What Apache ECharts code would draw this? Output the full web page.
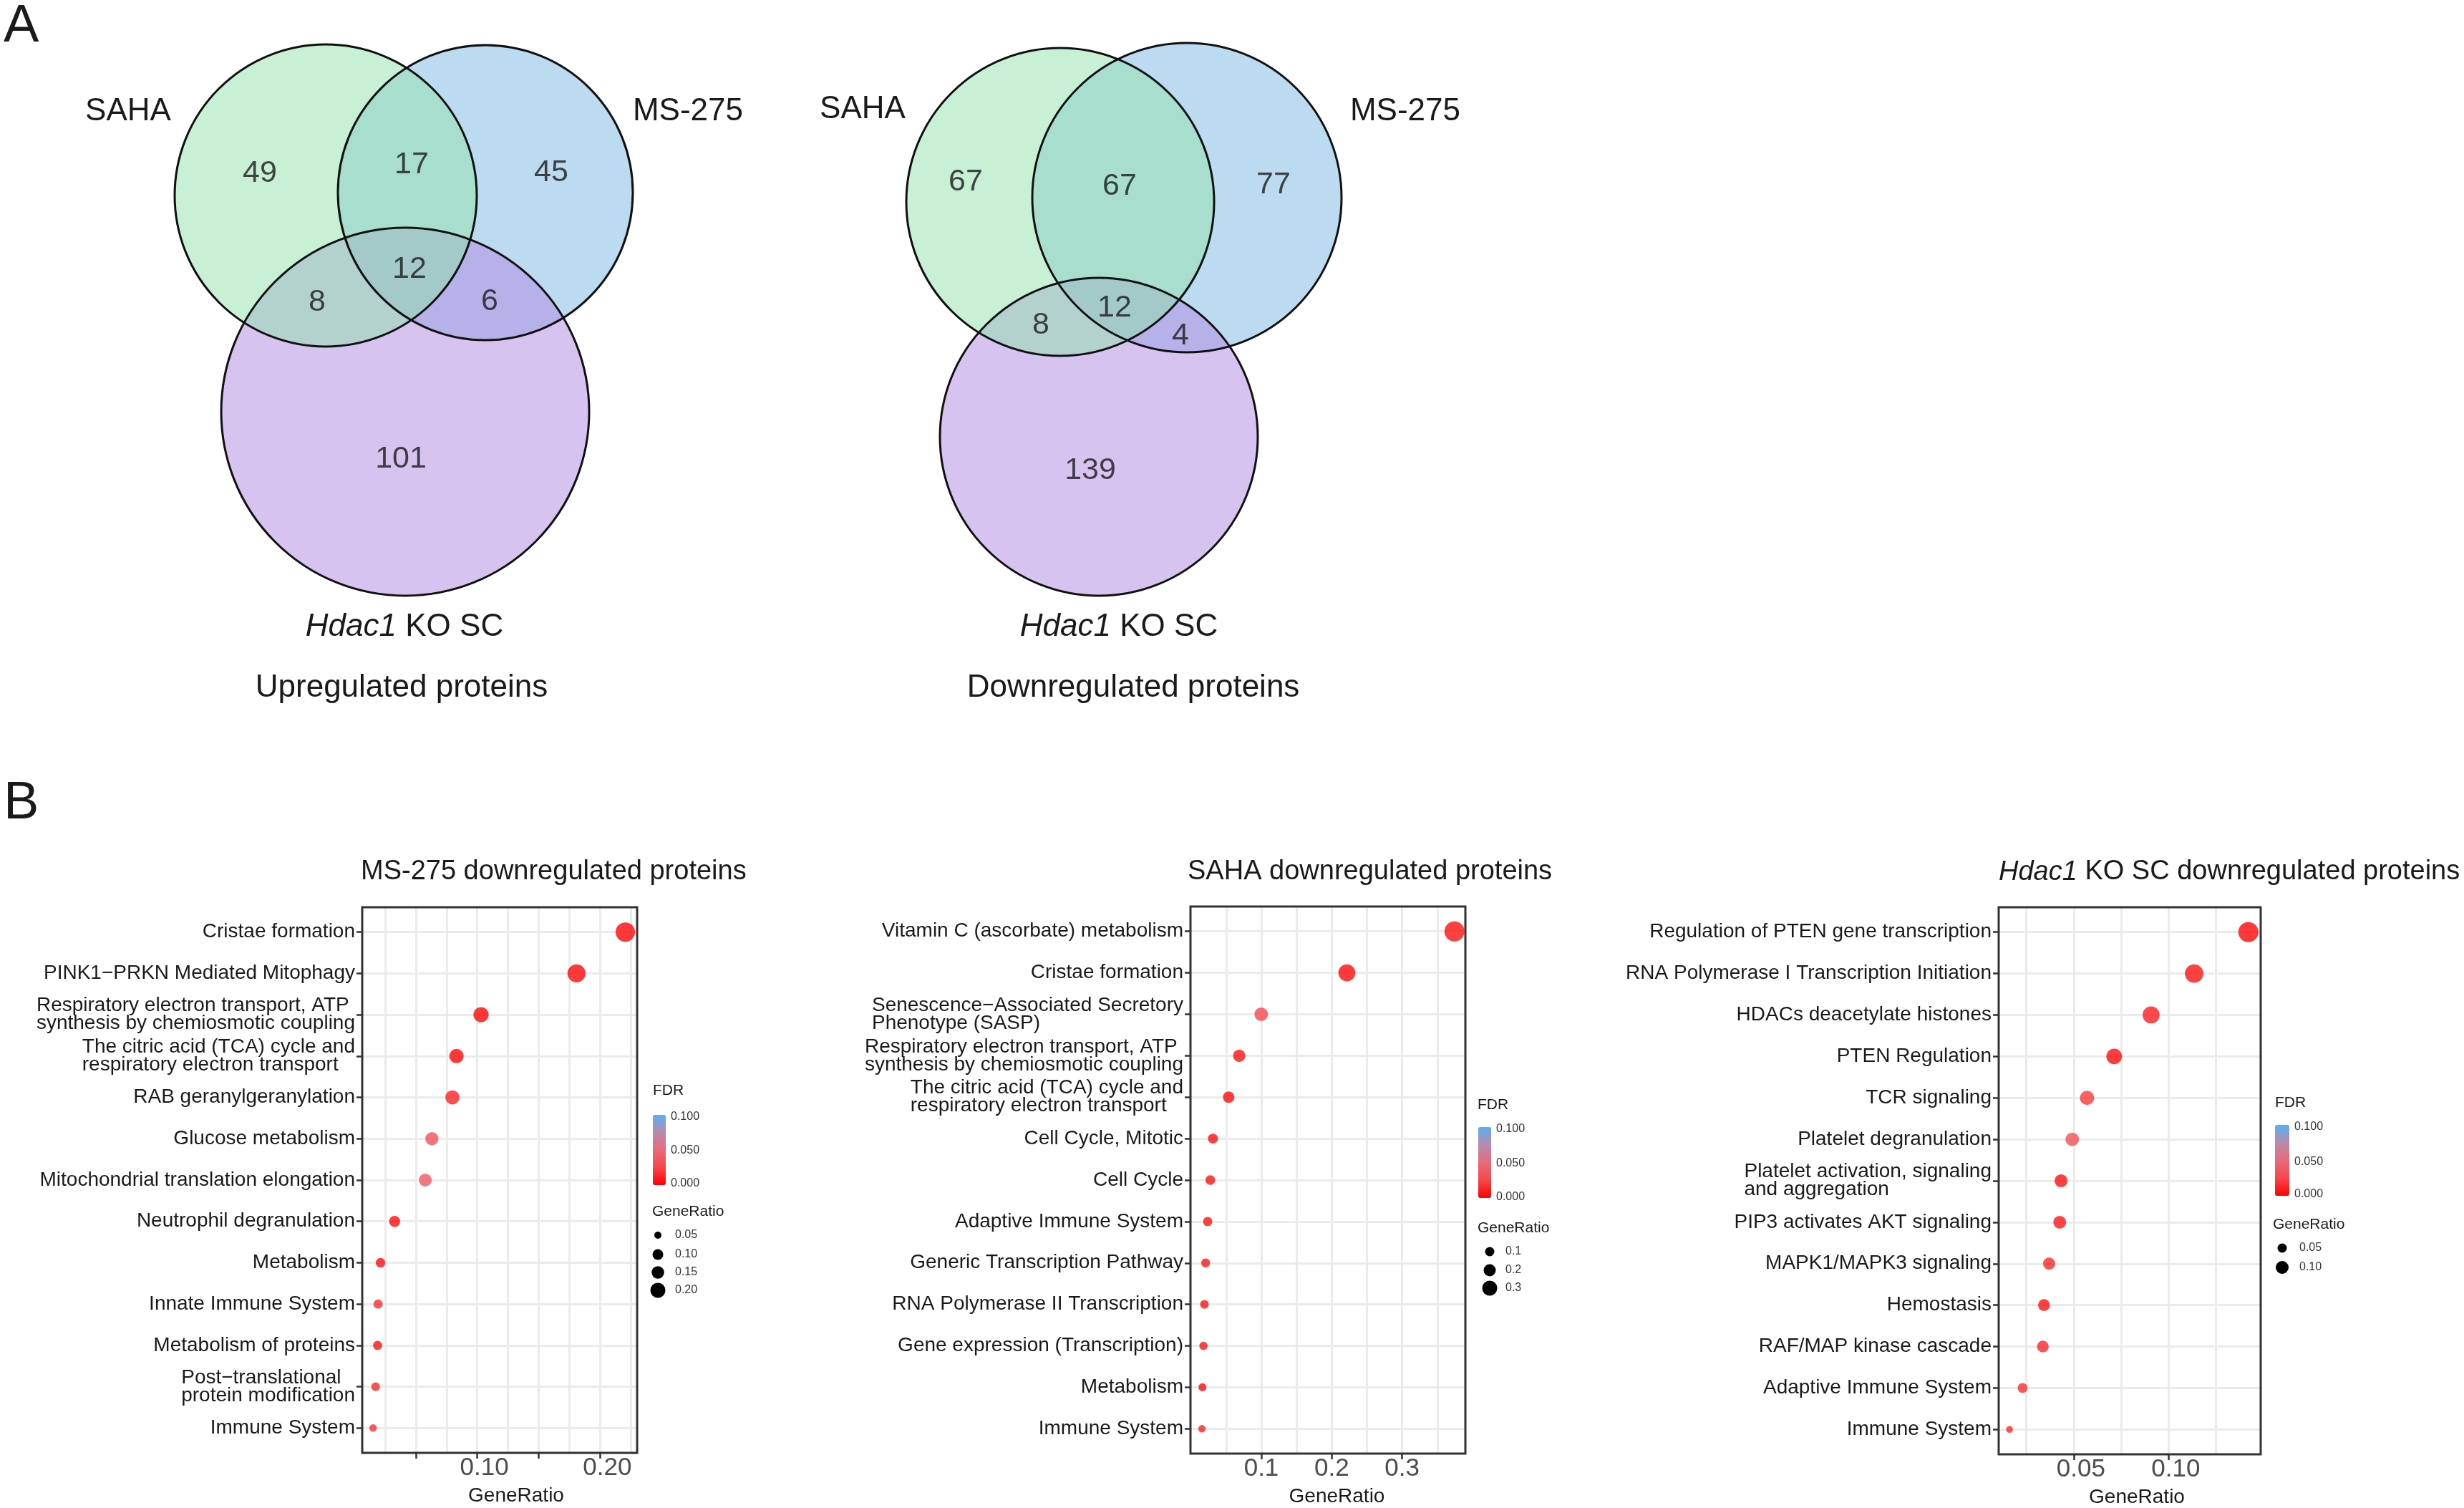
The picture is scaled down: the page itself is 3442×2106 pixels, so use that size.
<!DOCTYPE html>
<html>
<head>
<meta charset="utf-8">
<script src="https://cdn.jsdelivr.net/npm/echarts@6.0.0/dist/echarts.min.js"></script>
<style>
html,body{margin:0;padding:0;background:#ffffff;}
#chart{width:3442px;height:2106px;}
</style>
</head>
<body>
<div id="chart"></div>
<script>
// ================= DATA =================
// Venn regions (order used by both Venn diagrams)
const vennRegionNames = ['SAHA only', 'SAHA & MS-275', 'MS-275 only', 'all three', 'SAHA & Hdac1 KO SC', 'MS-275 & Hdac1 KO SC', 'Hdac1 KO SC only'];
const vennUpCounts   = [49, 17, 45, 12, 8, 6, 101];
const vennDownCounts = [67, 67, 77, 12, 8, 4, 139];

// Panel B1: MS-275 downregulated proteins
const ms275Terms = [
  'Cristae formation',
  'PINK1\u2212PRKN Mediated Mitophagy',
  'Respiratory electron transport, ATP\nsynthesis by chemiosmotic coupling',
  'The citric acid (TCA) cycle and\nrespiratory electron transport',
  'RAB geranylgeranylation',
  'Glucose metabolism',
  'Mitochondrial translation elongation',
  'Neutrophil degranulation',
  'Metabolism',
  'Innate Immune System',
  'Metabolism of proteins',
  'Post\u2212translational\nprotein modification',
  'Immune System'
];
const ms275Ratio = [0.2205, 0.1808, 0.1031, 0.0831, 0.0798, 0.0631, 0.0577, 0.0328, 0.0213, 0.0193, 0.0189, 0.0173, 0.0152];
const ms275FDR   = [0.002, 0.003, 0.002, 0.002, 0.012, 0.032, 0.036, 0.004, 0.005, 0.016, 0.006, 0.014, 0.016];

// Panel B2: SAHA downregulated proteins
const sahaTerms = [
  'Vitamin C (ascorbate) metabolism',
  'Cristae formation',
  'Senescence\u2212Associated Secretory\nPhenotype (SASP)',
  'Respiratory electron transport, ATP\nsynthesis by chemiosmotic coupling',
  'The citric acid (TCA) cycle and\nrespiratory electron transport',
  'Cell Cycle, Mitotic',
  'Cell Cycle',
  'Adaptive Immune System',
  'Generic Transcription Pathway',
  'RNA Polymerase II Transcription',
  'Gene expression (Transcription)',
  'Metabolism',
  'Immune System'
];
const sahaRatio = [0.3744, 0.2215, 0.0998, 0.0685, 0.0536, 0.0312, 0.0275, 0.0237, 0.0208, 0.0192, 0.0178, 0.0163, 0.0156];
const sahaFDR   = [0.006, 0.003, 0.026, 0.006, 0.004, 0.005, 0.006, 0.006, 0.008, 0.007, 0.008, 0.004, 0.012];

// Panel B3: Hdac1 KO SC downregulated proteins
const hdacTerms = [
  'Regulation of PTEN gene transcription',
  'RNA Polymerase I Transcription Initiation',
  'HDACs deacetylate histones',
  'PTEN Regulation',
  'TCR signaling',
  'Platelet degranulation',
  'Platelet activation, signaling\nand aggregation',
  'PIP3 activates AKT signaling',
  'MAPK1/MAPK3 signaling',
  'Hemostasis',
  'RAF/MAP kinase cascade',
  'Adaptive Immune System',
  'Immune System'
];
const hdacRatio = [0.1421, 0.1135, 0.0908, 0.0713, 0.0570, 0.0492, 0.0433, 0.0426, 0.0370, 0.0343, 0.0337, 0.0230, 0.0161];
const hdacFDR   = [0.002, 0.006, 0.010, 0.004, 0.020, 0.032, 0.006, 0.008, 0.014, 0.006, 0.014, 0.016, 0.014];

// Tick labels
const ms275TickValues = [0.10, 0.20];
const ms275TickLabels = ['0.10', '0.20'];
const sahaTickValues  = [0.1, 0.2, 0.3];
const sahaTickLabels  = ['0.1', '0.2', '0.3'];
const hdacTickValues  = [0.05, 0.10];
const hdacTickLabels  = ['0.05', '0.10'];

// Legend breaks
const fdrBreakLabels = ['0.100', '0.050', '0.000'];
const ms275SizeBreaks = ['0.05', '0.10', '0.15', '0.20'];
const sahaSizeBreaks  = ['0.1', '0.2', '0.3'];
const hdacSizeBreaks  = ['0.05', '0.10'];

// ================= LAYOUT / STYLE =================
const FONT = '"Liberation Sans", Arial, Helvetica, sans-serif';
const TXT = '#1a1a1a';
const fdrColors = ['#ff0000', '#f7474c', '#e86b7a', '#b98aac', '#56b1f7'];

// Venn geometry (canvas pixel units): order blue, purple, green (draw order)
const vennFillColors = ['rgba(121,181,225,0.5)', 'rgba(175,135,225,0.5)', 'rgba(145,225,169,0.5)'];
const vennUpCircles   = [[678, 269, 206], [566, 575, 257], [455, 273, 211]];
const vennDownCircles = [[1658, 276, 216], [1535, 610, 222], [1481, 282, 215]];
const vennUpLabelPos   = [[363, 242], [575, 230], [770, 241], [572, 376], [443, 422], [684, 421], [560, 641]];
const vennDownLabelPos = [[1349, 254], [1564, 260], [1779, 258], [1557, 430], [1454, 454], [1649, 469], [1523, 657]];

const panels = [
  { terms: ms275Terms, ratio: ms275Ratio, fdr: ms275FDR, tickV: ms275TickValues, tickL: ms275TickLabels,
    left: 506, top: 1267, width: 384, height: 762, xmin: 0.0064, xmax: 0.2301,
    gridVals: [0.025, 0.05, 0.075, 0.10, 0.125, 0.15, 0.175, 0.20, 0.225], majors: [0.05, 0.10, 0.15, 0.20],
    dmin: 10.5, dmax: 27, labelPad: 20, namePad: 46,
    title: 'MS-275 downregulated proteins', titleX: 504,
    leg: { fdrX: 912, fdrY: 1523, barX: 912, barY: 1557, barW: 18, barH: 98, labX: 937, labY: [1560, 1607, 1653],
           grX: 911, grY: 1692, dotX: 919, dotY: [1725, 1752, 1777, 1802], dotD: [10, 15, 17.5, 21], dotLabX: 943,
           breaks: ms275SizeBreaks } },
  { terms: sahaTerms, ratio: sahaRatio, fdr: sahaFDR, tickV: sahaTickValues, tickL: sahaTickLabels,
    left: 1663, top: 1266, width: 384, height: 764, xmin: -0.0007, xmax: 0.3899,
    gridVals: [0.05, 0.10, 0.15, 0.20, 0.25, 0.30, 0.35], majors: [0.1, 0.2, 0.3],
    dmin: 10.3, dmax: 28, labelPad: 0, namePad: 25,
    title: 'SAHA downregulated proteins', titleX: 1659,
    leg: { fdrX: 2064, fdrY: 1543, barX: 2065, barY: 1574, barW: 18, barH: 99, labX: 2090, labY: [1577, 1625, 1672],
           grX: 2064, grY: 1715, dotX: 2081, dotY: [1748, 1774, 1799], dotD: [13, 17, 21], dotLabX: 2103,
           breaks: sahaSizeBreaks } },
  { terms: hdacTerms, ratio: hdacRatio, fdr: hdacFDR, tickV: hdacTickValues, tickL: hdacTickLabels,
    left: 2792, top: 1267, width: 366, height: 764, xmin: 0.0104, xmax: 0.1486,
    gridVals: [0.025, 0.05, 0.075, 0.10, 0.125], majors: [0.05, 0.10],
    dmin: 9.5, dmax: 28, labelPad: 20, namePad: 20,
    title: '{i|Hdac1} KO SC downregulated proteins', titleX: 2792,
    leg: { fdrX: 3178, fdrY: 1540, barX: 3178, barY: 1571, barW: 20, barH: 99, labX: 3205, labY: [1574, 1623, 1668],
           grX: 3175, grY: 1710, dotX: 3188, dotY: [1743, 1770], dotD: [13, 18], dotLabX: 3212,
           breaks: hdacSizeBreaks } }
];

// ================= BUILD OPTION =================
const grids = [{ left: 0, top: 0, width: 3442, height: 2106, show: false, outerBoundsMode: 'none' }];
const xAxes = [{ gridIndex: 0, type: 'value', min: 0, max: 3442, show: false }];
const yAxes = [{ gridIndex: 0, type: 'value', min: 0, max: 2106, inverse: true, show: false }];
const series = [];
const visualMaps = [];
const graphics = [];

function text(x, y, str, size, extra) {
  return {
    type: 'text', x: x, y: y, z: 100, silent: true,
    style: Object.assign({ text: str, fontSize: size, fontFamily: FONT, fill: TXT, align: 'center', verticalAlign: 'middle' }, (extra || {}))
  };
}

// Venn circles (fills then strokes)
const vennAll = [];
vennUpCircles.forEach((c, i) => vennAll.push([c[0], c[1], c[2], i]));
vennDownCircles.forEach((c, i) => vennAll.push([c[0], c[1], c[2], i]));
function circleRender(stroke) {
  return function (params, api) {
    const p = api.coord([api.value(0), api.value(1)]);
    const r = api.size([api.value(2), 0])[0];
    const k = api.value(3);
    return {
      type: 'circle', shape: { cx: p[0], cy: p[1], r: r },
      style: stroke ? { fill: 'none', stroke: '#111111', lineWidth: 3 } : { fill: vennFillColors[k], stroke: 'none' }
    };
  };
}
series.push({ type: 'custom', xAxisIndex: 0, yAxisIndex: 0, data: vennAll, renderItem: circleRender(false), silent: true, z: 1 });
series.push({ type: 'custom', xAxisIndex: 0, yAxisIndex: 0, data: vennAll, renderItem: circleRender(true), silent: true, z: 2 });

// Venn counts
const vennNums = [];
vennUpCounts.forEach((c, i) => vennNums.push([vennUpLabelPos[i][0], vennUpLabelPos[i][1], c]));
vennDownCounts.forEach((c, i) => vennNums.push([vennDownLabelPos[i][0], vennDownLabelPos[i][1], c]));
series.push({
  type: 'scatter', xAxisIndex: 0, yAxisIndex: 0, data: vennNums, symbolSize: 1, silent: true, z: 3,
  itemStyle: { color: 'rgba(0,0,0,0)' },
  label: { show: true, position: 'inside', formatter: p => String(p.value[2]), fontSize: 43, fontFamily: FONT, color: TXT }
});

// Venn texts
graphics.push(text(5, 38, 'A', 74, { align: 'left' }));
graphics.push(text(5, 1123, 'B', 74, { align: 'left' }));
const richI = (size) => ({ i: { fontStyle: 'italic', fontSize: size, fontFamily: FONT, fill: TXT } });
graphics.push(text(179, 156, 'SAHA', 44));
graphics.push(text(961, 156, 'MS-275', 44));
graphics.push(text(565, 876, '{i|Hdac1} KO SC', 44, { rich: richI(44) }));
graphics.push(text(561, 961, 'Upregulated proteins', 44));
graphics.push(text(1205, 153, 'SAHA', 44));
graphics.push(text(1963, 156, 'MS-275', 44));
graphics.push(text(1563, 876, '{i|Hdac1} KO SC', 44, { rich: richI(44) }));
graphics.push(text(1583, 961, 'Downregulated proteins', 44));

// Dot plot panels
function sizeFn(vals, dmin, dmax) {
  const lo = Math.min.apply(null, vals), hi = Math.max.apply(null, vals);
  return v => dmin + (dmax - dmin) * Math.sqrt(Math.max(0, (v[0] - lo) / (hi - lo)));
}
function labelLookup(vals, labs) {
  return v => { for (let i = 0; i < vals.length; i++) { if (Math.abs(vals[i] - v) < 1e-9) return labs[i]; } return ''; };
}

panels.forEach((p, k) => {
  const gi = k + 1;
  grids.push({ left: p.left, top: p.top, width: p.width, height: p.height, show: true,
               borderColor: '#333333', borderWidth: 3, backgroundColor: 'rgba(0,0,0,0)', z: 2, outerBoundsMode: 'none' });
  const n = p.terms.length;
  const idx = p.terms.map((t, i) => i);
  const xMainIdx = xAxes.length;
  xAxes.push({
    gridIndex: gi, type: 'value', min: p.xmin, max: p.xmax, position: 'bottom',
    axisLine: { show: false, onZero: false },
    axisTick: { show: false, customValues: p.gridVals },
    axisLabel: { show: false },
    splitLine: { show: true, lineStyle: { color: '#ebebeb', width: 3 } },
    minorSplitLine: { show: false }
  });
  xAxes.push({
    gridIndex: gi, type: 'value', min: p.xmin, max: p.xmax, position: 'bottom',
    axisLine: { show: false, onZero: false },
    axisTick: { show: true, length: 8, lineStyle: { color: '#333333', width: 2.5 }, customValues: p.majors },
    axisLabel: { show: true, customValues: p.tickV, formatter: labelLookup(p.tickV, p.tickL),
                 fontSize: 35, lineHeight: 35, fontFamily: FONT, color: '#4d4d4d', margin: 4, padding: [0, 0, 0, p.labelPad] },
    splitLine: { show: false },
    name: 'GeneRatio', nameLocation: 'middle', nameGap: 46,
    nameTextStyle: { fontSize: 28, fontFamily: FONT, color: TXT, padding: [0, 0, 0, p.namePad] }
  });
  const yIdx = yAxes.length;
  yAxes.push({
    gridIndex: gi, type: 'value', min: -0.6, max: n - 1 + 0.6, inverse: true, position: 'left',
    axisLine: { show: false, onZero: false },
    axisTick: { show: true, length: 8, lineStyle: { color: '#333333', width: 2.5 }, customValues: idx },
    axisLabel: {
      show: true, customValues: idx, margin: 10,
      formatter: v => { const t = p.terms[Math.round(v)] || ''; return t.split('\n').map(s => '{l|' + s + '}').join('\n'); },
      rich: { l: { fontSize: 28, lineHeight: 25, fontFamily: FONT, color: TXT, align: 'left' } }
    },
    splitLine: { show: true, lineStyle: { color: '#ebebeb', width: 3 } }
  });
  const sIdx = series.length;
  series.push({
    type: 'scatter', xAxisIndex: xMainIdx, yAxisIndex: yIdx,
    data: p.ratio.map((r, i) => [r, i, p.fdr[i]]),
    symbol: 'circle', symbolSize: sizeFn(p.ratio, p.dmin, p.dmax), silent: true, z: 5
  });
  visualMaps.push({
    type: 'continuous', seriesIndex: sIdx, dimension: 2, min: 0, max: 0.1,
    inRange: { color: fdrColors }, calculable: false, hoverLink: false, show: true, orient: 'vertical',
    left: p.leg.barX, top: p.leg.barY, itemWidth: p.leg.barW, itemHeight: p.leg.barH, padding: 0, text: null
  });
  // Title
  graphics.push(text(p.titleX, 1218, p.title, 38, { align: 'left', rich: richI(38) }));
  // Legend texts
  const L = p.leg;
  graphics.push(text(L.fdrX, L.fdrY, 'FDR', 21, { align: 'left' }));
  fdrBreakLabels.forEach((s, i) => graphics.push(text(L.labX, L.labY[i], s, 16, { align: 'left', fill: '#333333' })));
  graphics.push(text(L.grX, L.grY, 'GeneRatio', 21, { align: 'left' }));
  L.breaks.forEach((s, i) => {
    graphics.push({ type: 'circle', z: 100, silent: true, shape: { cx: L.dotX, cy: L.dotY[i], r: L.dotD[i] / 2 }, style: { fill: '#000000' } });
    graphics.push(text(L.dotLabX, L.dotY[i], s, 16, { align: 'left', fill: '#333333' }));
  });
});

const option = {
  backgroundColor: '#ffffff',
  animation: false,
  textStyle: { fontFamily: FONT },
  grid: grids,
  xAxis: xAxes,
  yAxis: yAxes,
  visualMap: visualMaps,
  series: series,
  graphic: { elements: graphics }
};

const chart = echarts.init(document.getElementById('chart'), null, { renderer: 'canvas' });
chart.setOption(option);
</script>
</body>
</html>
